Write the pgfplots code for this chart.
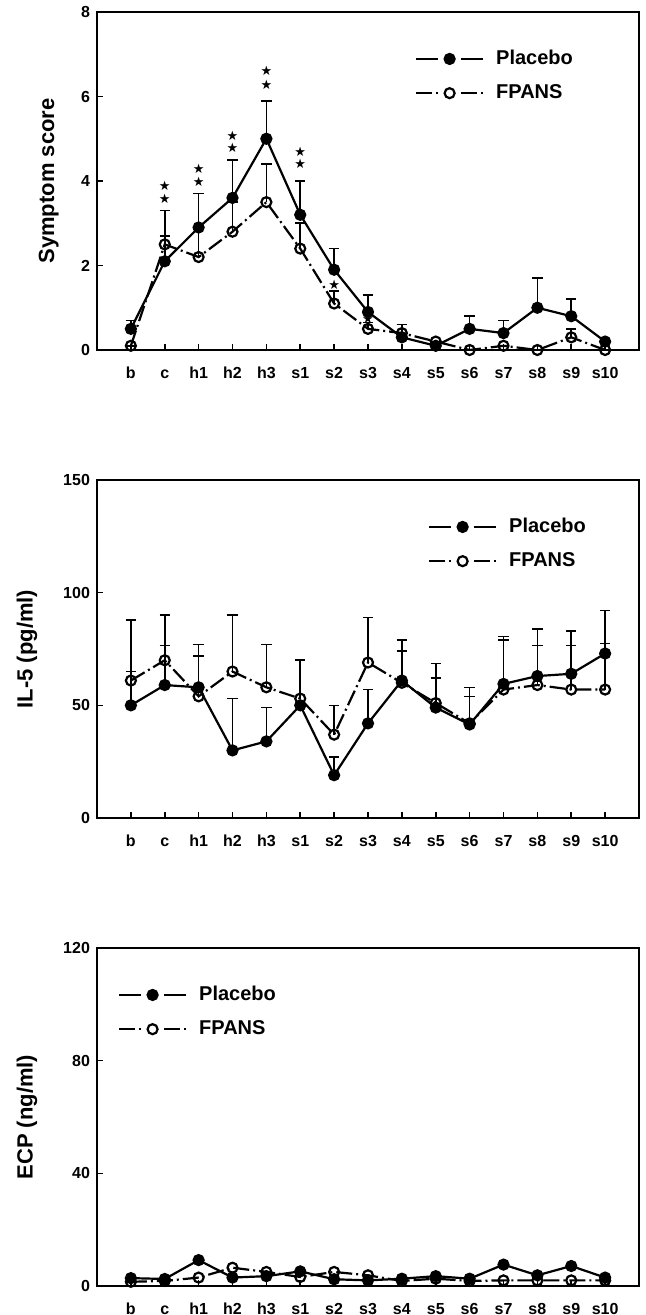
\documentclass[border=0pt]{standalone}
\usepackage{fontspec}
\setmainfont{Liberation Sans}
\newfontfamily\symfont{DejaVu Sans}
\usepackage{pgfplots}
\usepackage{pgfplotstable}
\pgfplotsset{compat=1.18}

% x: 0=b 1=c 2=h1 3=h2 4=h3 5..14=s1..s10
% p/pe: placebo mean / upper error, f/fe: FPANS mean / upper error
\pgfplotstableread{
x p pe f fe
0 0.5 0.2 0.1 0
1 2.1 1.2 2.5 0.2
2 2.9 0.8 2.2 0.65
3 3.6 0.9 2.8 0.7
4 5.0 0.9 3.5 0.9
5 3.2 0.8 2.4 0.6
6 1.9 0.5 1.1 0.3
7 0.9 0.4 0.5 0.15
8 0.3 0.3 0.4 0.2
9 0.1 0 0.2 0
10 0.5 0.3 0 0
11 0.4 0.3 0.1 0
12 1.0 0.7 0 0
13 0.8 0.4 0.3 0.2
14 0.2 0 0 0
}\symptom

\pgfplotstableread{
x p pe f fe
0 50 15 61 27
1 59 17.5 70 20
2 58 19 54 18
3 30 23 65 25
4 34 15 58 19
5 50 0 53 17
6 19 8 37 13
7 42 15 69 20
8 61 18 60 14
9 49 13 51 17.5
10 41.5 16.5 42 12
11 59.5 21 57 22
12 63 21 59 17.5
13 64 19 57 19.5
14 73 19 57 20.5
}\ilfive

\pgfplotstableread{
x p f
0 2.8 1.5
1 2.5 1.8
2 9.2 3.0
3 3.0 6.5
4 3.5 5.0
5 5.2 3.2
6 2.4 5.0
7 2.0 3.8
8 2.6 1.8
9 3.5 2.6
10 2.6 1.8
11 7.6 2.0
12 3.8 2.0
13 7.1 2.0
14 3.0 2.0
}\ecp

\tikzset{sigstar/.style={font=\symfont\fontsize{6.5}{6.5}\selectfont, inner sep=0pt}}

\pgfplotsset{
  panel/.style={
    scale only axis, width=271pt, height=169pt,
    xmin=-1, xmax=15,
    xtick={0,...,14},
    xticklabels={b,c,h1,h2,h3,s1,s2,s3,s4,s5,s6,s7,s8,s9,s10},
    xticklabel style={inner sep=0.5pt, text height=6pt, text depth=0pt, yshift=-7.4pt},
    tick align=inside, xtick pos=bottom, ytick pos=left,
    major tick length=3pt,
    axis line style={line width=0.9pt},
    every tick/.style={line width=0.8pt, black},
    tick label style={font=\bfseries\fontsize{8}{9}\selectfont},
    /pgf/number format/assume math mode=true,
    ylabel style={font=\bfseries\fontsize{11}{12}\selectfont, anchor=center},
    legend style={draw=none, fill=none, inner sep=0pt, anchor=north west,
      row sep=4.5pt, column sep=4pt,
      font=\bfseries\fontsize{10}{12}\selectfont, cells={anchor=west}},
    legend image code/.code={
      \draw[#1, mark=none] (0pt,0pt) -- (11pt,0pt);
      \draw[#1, mark=none] (22.5pt,0pt) -- (33.5pt,0pt);
      \draw[#1, only marks] plot coordinates {(16.75pt,0pt)};},
  },
  plac/.style={black, line width=1.1pt, mark=*, mark size=2.5pt,
    mark options={solid, fill=black},
    error bars/y dir=plus, error bars/y explicit,
    error bars/error bar style={line width=0.8pt, solid},
    error bars/error mark options={rotate=90, mark size=2.6pt, line width=0.8pt, solid}},
  fpans/.style={black, line width=1.1pt, dash pattern=on 8pt off 2pt on 1pt off 2pt,
    mark=o, mark size=2.5pt, mark options={solid, fill=white},
    error bars/y dir=plus, error bars/y explicit,
    error bars/error bar style={line width=0.8pt, solid},
    error bars/error mark options={rotate=90, mark size=2.6pt, line width=0.8pt, solid}},
}

\begin{document}
\begin{tikzpicture}
\useasboundingbox (0,0) rectangle (322.5pt,-657.5pt);

% Panel 1: symptom score
\begin{axis}[panel, at={(48.5pt,-175pt)}, anchor=south west,
    ymin=0, ymax=8, ytick={0,2,4,6,8},
    ylabel={Symptom score},
    ylabel style={at={(axis description cs:-0.089,0.5)}},
    legend style={at={(0.586,0.90)}}]
  \addplot[plac] table[x=x, y=p, y error plus=pe] {\symptom};
  \addplot[fpans] table[x=x, y=f, y error plus=fe] {\symptom};
  \legend{Placebo, FPANS}
  \node[sigstar] at (axis cs:1,3.57) {★};
  \node[sigstar] at (axis cs:1,3.89) {★};
  \node[sigstar] at (axis cs:2,3.99) {★};
  \node[sigstar] at (axis cs:2,4.28) {★};
  \node[sigstar] at (axis cs:3,4.78) {★};
  \node[sigstar] at (axis cs:3,5.07) {★};
  \node[sigstar] at (axis cs:4,6.28) {★};
  \node[sigstar] at (axis cs:4,6.60) {★};
  \node[sigstar] at (axis cs:5,4.40) {★};
  \node[sigstar] at (axis cs:5,4.70) {★};
  \node[sigstar] at (axis cs:6,1.54) {★};
  \node[sigstar] at (axis cs:7,0.74) {★};
\end{axis}

% Panel 2: IL-5
\begin{axis}[panel, at={(48.5pt,-409pt)}, anchor=south west,
    ymin=0, ymax=150, ytick={0,50,100,150},
    ylabel={IL-5 (pg/ml)},
    ylabel style={at={(axis description cs:-0.129,0.5)}},
    legend style={at={(0.61,0.90)}}]
  \addplot[plac] table[x=x, y=p, y error plus=pe] {\ilfive};
  \addplot[fpans] table[x=x, y=f, y error plus=fe] {\ilfive};
  \legend{Placebo, FPANS}
\end{axis}

% Panel 3: ECP
\begin{axis}[panel, at={(48.5pt,-643pt)}, anchor=south west,
    ymin=0, ymax=120, ytick={0,40,80,120},
    ylabel={ECP (ng/ml)},
    ylabel style={at={(axis description cs:-0.129,0.5)}},
    legend style={at={(0.038,0.90)}}]
  \addplot[black, line width=1.1pt, mark=*, mark size=2.5pt,
    mark options={solid, fill=black}] table[x=x, y=p] {\ecp};
  \addplot[black, line width=1.1pt, dash pattern=on 8pt off 2pt on 1pt off 2pt,
    mark=o, mark size=2.5pt, mark options={solid, fill=white}] table[x=x, y=f] {\ecp};
  \legend{Placebo, FPANS}
\end{axis}
\end{tikzpicture}
\end{document}
